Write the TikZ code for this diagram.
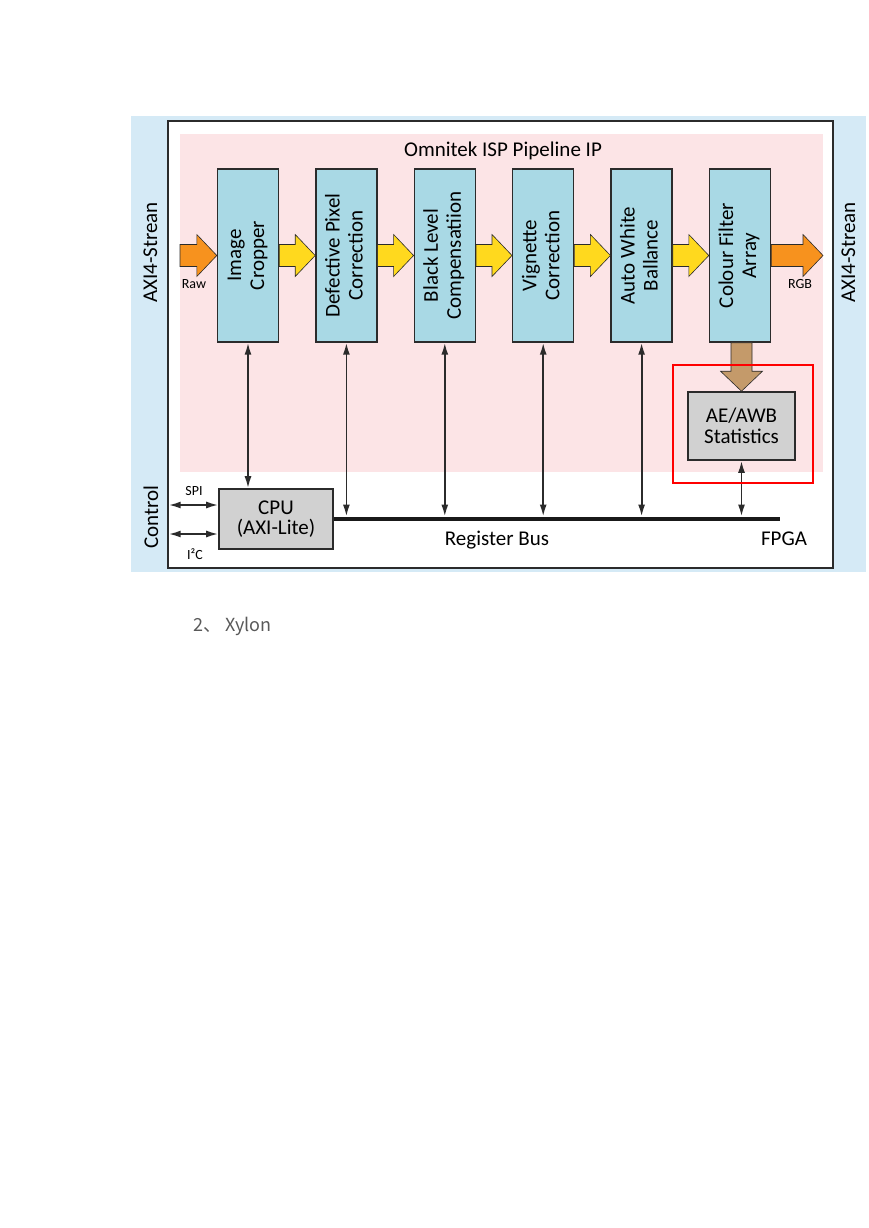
\documentclass[tikz,border=0pt]{standalone}
\usepackage{fontspec}
\setmainfont{Carlito}
\newfontfamily\cjk{Noto Sans CJK SC}
\usetikzlibrary{arrows.meta}
\usetikzlibrary{positioning,calc}
\definecolor{bgblue}{HTML}{D5EAF6}
\definecolor{pinkbg}{HTML}{FCE4E6}
\definecolor{stageblue}{HTML}{A9D9E5}
\definecolor{flowyellow}{HTML}{FFD91E}
\definecolor{floworange}{HTML}{F7921E}
\definecolor{flowbrown}{HTML}{C49A6A}
\definecolor{boxgray}{HTML}{D1D1D1}
\definecolor{edgegray}{HTML}{2B2B2B}
\newcommand\bigtxt{\fontsize{21}{23}\selectfont}
\newcommand\smalltxt{\fontsize{14}{16}\selectfont}
\newcommand\vtext[1]{\rotatebox{90}{\begin{tabular}{@{}c@{}}#1\end{tabular}}}
% block arrow, left to right: fill, from, to
\newcommand\harrow[3]{\path[flow,fill=#1] let \p1=(#2), \p2=(#3) in
  (\x1,\y1+11pt) -- (\x2-20pt,\y1+11pt) -- (\x2-20pt,\y1+21pt) -- (\x2,\y1)
  -- (\x2-20pt,\y1-21pt) -- (\x2-20pt,\y1-11pt) -- (\x1,\y1-11pt) -- cycle;}
% block arrow, top to bottom: fill, from, to
\newcommand\varrow[3]{\path[flow,fill=#1] let \p1=(#2), \p2=(#3) in
  (\x2-10.5pt,\y1) -- (\x2-10.5pt,\y2+20pt) -- (\x2-21pt,\y2+20pt) -- (\x2,\y2)
  -- (\x2+21pt,\y2+20pt) -- (\x2+10.5pt,\y2+20pt) -- (\x2+10.5pt,\y1) -- cycle;}
\tikzset{stage/.style={rectangle,draw=edgegray,line width=1.4pt,fill=stageblue,
		minimum width=61pt,minimum height=173pt,inner sep=0pt,font=\bigtxt},
		graybox/.style={rectangle,draw=edgegray,line width=1.6pt,fill=boxgray,
		align=center,inner sep=0pt,font=\fontsize{21}{20.5}\selectfont},
		flow/.style={draw=edgegray,line width=0.6pt},
		regarrow/.style={{Latex[length=12pt,width=7pt]}-{Latex[length=12pt,width=7pt]},
		line width=1.8pt,draw=edgegray},
		bus/.style={line width=4.5pt,draw=black!90},
		txt/.style={font=\bigtxt,inner sep=0pt,anchor=base},
		small/.style={font=\smalltxt,inner sep=0pt,anchor=base}}
\begin{document}
\begin{tikzpicture}[x=1pt,y=-1pt]
	\useasboundingbox (0,0) rectangle (869,1228);
	% frames
	\fill[bgblue] (131,116) rectangle (866,572);
	\draw[fill=white,line width=1.4pt,draw=edgegray] (168,121) rectangle (833,568);
	\fill[pinkbg] (180,134) rectangle (823,472);
	\node [txt] (title) at (503,156.5) {Omnitek ISP Pipeline IP};
	\node [txt,rotate=90] (axiL) at (157,252.5) {AXI4-Strean};
	\node [txt,rotate=90] (axiR) at (855,252.5) {AXI4-Strean};
	\node [txt,rotate=90] (ctrl) at (158,517) {Control};
	% pipeline stages
	\node [stage] (crop) at (248,255.5) {\vtext{Image\\Cropper}};
	\node [stage] (dpc) [right=36pt of crop] {\vtext{Defective Pixel\\Correction}};
	\node [stage] (blc) [right=36pt of dpc] {\vtext{Black Level\\Compensatiion}};
	\node [stage] (vig) [right=36pt of blc] {\vtext{Vignette\\Correction}};
	\node [stage] (awb) [right=36pt of vig] {\vtext{Auto White\\Ballance}};
	\node [stage] (cfa) [right=36pt of awb] {\vtext{Colour Filter\\Array}};
	\node [graybox,minimum width=107pt,minimum height=68pt] (stats) at (741.5,426) {AE/AWB\\Statistics};
	\node [graybox,minimum width=114pt,minimum height=60pt] (cpu) at (276,519) {CPU\\(AXI-Lite)};
	% data flow
	\coordinate (rawin) at (180,255.5);
	\coordinate (rgbout) at (823,255.5);
	\harrow{floworange}{rawin}{crop.west}
	\harrow{flowyellow}{crop.east}{dpc.west}
	\harrow{flowyellow}{dpc.east}{blc.west}
	\harrow{flowyellow}{blc.east}{vig.west}
	\harrow{flowyellow}{vig.east}{awb.west}
	\harrow{flowyellow}{awb.east}{cfa.west}
	\harrow{floworange}{cfa.east}{rgbout}
	\varrow{flowbrown}{cfa.south}{stats.north}
	\node [small] (raw) at (194,288) {Raw};
	\node [small] (rgb) at (800,288) {RGB};
	% register bus
	\coordinate (busend) at (780,519);
	\coordinate (bustop) at (780,516.5);
	\draw[bus] (cpu.east) -- (busend);
	\draw[regarrow] (crop.south) -- (crop.south |- cpu.north);
	\draw[regarrow] (dpc.south) -- (dpc.south |- bustop);
	\draw[regarrow] (blc.south) -- (blc.south |- bustop);
	\draw[regarrow] (vig.south) -- (vig.south |- bustop);
	\draw[regarrow] (awb.south) -- (awb.south |- bustop);
	\draw[regarrow] (stats.south) -- (stats.south |- bustop);
	\node [txt] (regbus) at (497,545) {Register Bus};
	\node [txt] (fpga) at (784,545) {FPGA};
	% control ports
	\coordinate (spi) at (168.7,505);
	\coordinate (iic) at (168.7,534);
	\draw[regarrow] (spi) -- (spi -| cpu.west);
	\draw[regarrow] (iic) -- (iic -| cpu.west);
	\node [small] (spilbl) at (194,495) {SPI};
	\node [small] (iiclbl) at (195,559) {I²C};
	% highlight
	\draw[red,line width=1.6pt] (673,365) rectangle (813,483);
	\node [font=\cjk\fontsize{18}{20}\selectfont,text=black!65,inner sep=0pt,anchor=base west] (xylon) at (193,631) {2、 Xylon};
\end{tikzpicture}
\end{document}
